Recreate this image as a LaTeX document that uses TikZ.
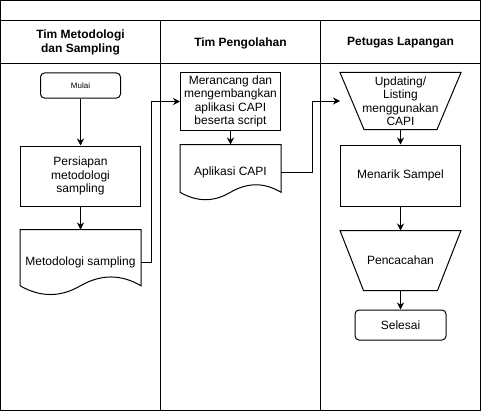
\documentclass[tikz,border=0pt]{standalone}
\usepackage{fontspec}
\setmainfont{Liberation Sans}
\usetikzlibrary{arrows.meta}

\begin{document}
\begin{tikzpicture}[x=1pt,y=-1pt,line width=1pt,>={Stealth[length=7pt,width=7pt]}]
\tikzstyle{every node}+=[inner sep=0pt,align=center,font=\fontsize{12}{13.5}\selectfont]
\tikzstyle{lane}=[font=\bfseries\fontsize{12}{13.5}\selectfont]
\tikzstyle{box}=[draw,rectangle]
\tikzstyle{term}=[draw,rectangle,rounded corners=4pt]
\tikzstyle{shapebox}=[rectangle]
\tikzstyle{arr}=[->]
\useasboundingbox (0,0) rectangle (482,412);
\draw [black] (0.5,0.5) rectangle (480.5,410.5);
\draw [black] (0.5,20.5) -- (480.5,20.5);
\draw [black] (0.5,63.5) -- (480.5,63.5);
\draw [black] (160.5,20.5) -- (160.5,410.5);
\draw [black] (320.5,20.5) -- (320.5,410.5);
\node [lane] (metode) at (80.5,42.5) {Tim Metodologi\\dan Sampling};
\node [lane] (olah) at (240.5,43) {Tim Pengolahan};
\node [lane] (petugas) at (400.5,43) {Petugas Lapangan};
\node [term,minimum width=80pt,minimum height=25pt,font=\fontsize{8}{9}\selectfont] (mulai) at (80.5,85.5) {Mulai};
\node [box,minimum width=120pt,minimum height=60pt] (persiapan) at (80.5,176) {Persiapan\\metodologi\\sampling};
\node [shapebox,minimum width=120pt,minimum height=65pt] (metodologi) at (80.5,262.5) {Metodologi sampling};
\draw [black] (metodologi.north west) -- (metodologi.north east) -- ([yshift=9.75pt]metodologi.south east)
  .. controls ([shift={(-20pt,21.45pt)}]metodologi.south east) and ([shift={(-40pt,21.45pt)}]metodologi.south east) .. ([yshift=9.75pt]metodologi.south)
  .. controls ([shift={(-20pt,-1.95pt)}]metodologi.south) and ([shift={(-40pt,-1.95pt)}]metodologi.south) .. ([yshift=9.75pt]metodologi.south west) -- cycle;
\node [box,minimum width=100pt,minimum height=57pt] (merancang) at (230.5,101.5) {Merancang dan\\mengembangkan\\aplikasi CAPI\\beserta script};
\node [shapebox,minimum width=100pt,minimum height=55pt] (aplikasi) at (230.5,172.5) {Aplikasi CAPI};
\draw [black] (aplikasi.north west) -- (aplikasi.north east) -- ([yshift=8.25pt]aplikasi.south east)
  .. controls ([shift={(-16.67pt,18.18pt)}]aplikasi.south east) and ([shift={(-33.33pt,18.18pt)}]aplikasi.south east) .. ([yshift=8.25pt]aplikasi.south)
  .. controls ([shift={(-16.67pt,-1.65pt)}]aplikasi.south) and ([shift={(-33.33pt,-1.65pt)}]aplikasi.south) .. ([yshift=8.25pt]aplikasi.south west) -- cycle;
\node [shapebox,minimum width=120pt,minimum height=56pt] (updating) at (400.5,101) {Updating/\\Listing\\menggunakan\\CAPI};
\draw [black] (updating.north west) -- (updating.north east) -- ([xshift=-24pt]updating.south east) -- ([xshift=24pt]updating.south west) -- cycle;
\node [box,minimum width=120pt,minimum height=61pt] (menarik) at (400.5,175.5) {Menarik Sampel};
\node [shapebox,minimum width=120pt,minimum height=59pt] (pencacahan) at (400.5,260.5) {Pencacahan};
\draw [black] (pencacahan.north west) -- (pencacahan.north east) -- ([xshift=-23.5pt]pencacahan.south east) -- ([xshift=23.5pt]pencacahan.south west) -- cycle;
\node [term,minimum width=91pt,minimum height=30pt] (selesai) at (400.5,325) {Selesai};
\draw [arr] (mulai) -- (persiapan);
\draw [arr] (persiapan) -- (metodologi);
\draw [arr] (metodologi.east) -- ++(10,0) |- (merancang.west);
\draw [arr] (merancang) -- (aplikasi);
\draw [arr] (aplikasi.east) -- ++(31,0) |- (updating.west);
\draw [arr] (updating) -- (menarik);
\draw [arr] (menarik) -- (pencacahan);
\draw [arr] (pencacahan) -- (selesai);
\end{tikzpicture}
\end{document}
